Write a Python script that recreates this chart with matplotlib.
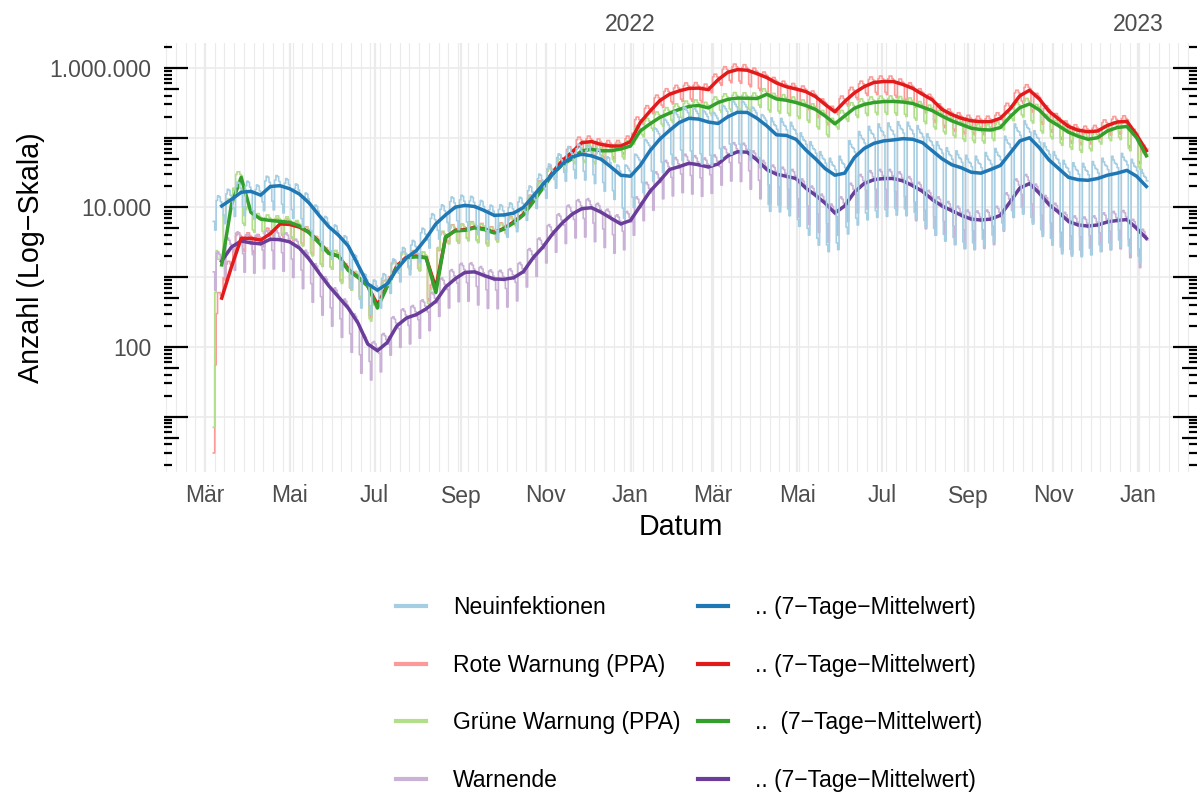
import numpy as np
import matplotlib
matplotlib.use("Agg")
import matplotlib.pyplot as plt
import matplotlib.dates as mdates
from matplotlib.ticker import FixedLocator, FuncFormatter, NullFormatter
from matplotlib.lines import Line2D

plt.rcParams['font.family'] = ['Liberation Sans', 'DejaVu Sans']

# ---------------- data (values in thousands, weekly 7-day means) -------------
START = np.datetime64('2021-03-07')   # first daily value (a Sunday)
N_WEEKS = 96

neu_7d = [10.5, 13.0, 16.5, 17.0, 15.0, 20.0, 20.5, 18.5, 15.5, 11.5,
          7.7, 5.3, 4.0, 2.8, 1.5, 0.8, 0.65, 0.8, 1.3, 1.9,
          2.4, 3.6, 5.8, 7.8, 10.1, 10.7, 10.3, 9.0, 7.7, 7.8,
          8.3, 10.0, 14.5, 21.5, 30, 42, 53, 58, 55, 49,
          38, 29, 28, 40, 65, 95, 127, 165, 190, 185,
          168, 160, 200, 232, 230, 190, 148, 110, 108, 95,
          67, 50, 36, 29, 31, 52, 70, 83, 90, 93,
          97, 95, 85, 65, 50, 41, 37, 32, 31, 35,
          40, 60, 90, 100, 72, 48, 36, 27, 25, 24.5,
          26, 29, 31, 34, 28, 20]

rot_7d = [0.5, 1.4, 3.6, 3.6, 3.4, 4.2, 5.8, 5.7, 5.2, 4.4,
          3.2, 2.2, 2.0, 1.3, 1.0, 0.75, 0.4, 0.75, 1.45, 1.95,
          2.0, 1.9, 0.7, 3.7, 4.7, 4.8, 5.2, 4.9, 4.4, 5.0,
          6.2, 8.0, 12.5, 20, 32, 47, 62, 85, 88, 80,
          76, 76, 88, 165, 240, 340, 420, 470, 510, 515,
          490, 680, 870, 950, 930, 830, 730, 610, 540, 500,
          460, 390, 300, 235, 330, 440, 540, 620, 640, 640,
          580, 510, 420, 350, 255, 215, 190, 175, 170, 170,
          190, 260, 400, 480, 360, 240, 185, 145, 128, 122,
          125, 150, 168, 172, 110, 65]

gruen_7d = [1.5, 11, 27, 8.5, 6.8, 6.5, 6.3, 6.1, 5.4, 4.3,
            3.1, 2.2, 2.0, 1.25, 1.0, 0.75, 0.36, 0.73, 1.4, 1.9,
            1.95, 1.9, 0.6, 3.8, 4.6, 4.7, 5.1, 4.8, 4.3, 4.9,
            6.0, 7.8, 12, 19, 30, 41, 50, 65, 68, 65,
            65, 69, 76, 125, 158, 195, 225, 255, 280, 290,
            268, 320, 355, 370, 368, 365, 420, 360, 345, 320,
            290, 255, 205, 158, 205, 265, 300, 320, 330, 332,
            325, 310, 275, 245, 205, 175, 155, 137, 131, 129,
            140, 200, 270, 305, 250, 180, 148, 120, 105, 95,
            100, 125, 140, 145, 100, 55]

warn_7d = [1.7, 2.7, 3.3, 3.1, 3.0, 3.5, 3.45, 3.2, 2.6, 1.8,
           1.15, 0.75, 0.52, 0.36, 0.22, 0.11, 0.088, 0.115, 0.2, 0.26,
           0.29, 0.35, 0.45, 0.72, 0.95, 1.17, 1.19, 1.05, 0.94, 0.93,
           0.98, 1.2, 1.9, 2.7, 4.2, 6.0, 8.0, 9.6, 9.9, 8.5,
           7.0, 5.8, 6.5, 10.5, 17, 24, 35, 38.5, 43, 41,
           38, 42, 55, 63, 62, 48, 35, 30, 28, 26,
           19, 15, 11.5, 8.3, 10.5, 16.5, 22, 25, 26, 26,
           24, 20.5, 17, 13, 10.5, 9.0, 7.7, 6.8, 6.6, 6.8,
           7.7, 12, 19, 22, 16, 11, 8.5, 6.3, 5.6, 5.4,
           5.6, 6.2, 6.5, 6.7, 5.0, 3.6]

# weekday profile of the daily values relative to the weekly mean (Sun..Sat)
NEU_FACT_2021 = [0.6, 0.45, 1.2, 1.4, 1.35, 1.15, 0.95]
NEU_FACT_EARLY22 = [0.35, 0.25, 1.45, 1.4, 1.3, 1.2, 1.0]
NEU_FACT_LATE22 = [0.1, 0.08, 1.75, 1.55, 1.4, 1.35, 1.2]
NEU_PATTERN_CHANGE = [42, 57]          # week index where the profile changes
PPA_FACT = [0.7, 0.65, 1.1, 1.2, 1.2, 1.1, 1.05]
WARN_FACT = [0.7, 0.38, 1.3, 1.35, 1.25, 1.1, 0.95]
ROT_RAMP = [3, 55, 300]                # first daily values (app ramp-up)
GRUEN_RAMP = [7, 600, 2400]

MONTHS_DE = ['Jan', 'Feb', 'Mär', 'Apr', 'Mai', 'Jun', 'Jul', 'Aug',
             'Sep', 'Okt', 'Nov', 'Dez']
YEAR_LABELS = ['2022', '2023']
LABELS_LEFT = ['Neuinfektionen', 'Rote Warnung (PPA)', 'Grüne Warnung (PPA)', 'Warnende']
LABELS_RIGHT = ['.. (7\u2212Tage\u2212Mittelwert)', '.. (7\u2212Tage\u2212Mittelwert)',
                '..  (7\u2212Tage\u2212Mittelwert)', '.. (7\u2212Tage\u2212Mittelwert)']

# ---------------- build series --------------------------------------------
def build_daily(weekly, fact_for_week, ramp=None):
    vals = []
    for w, v in enumerate(weekly):
        vals.extend([v * 1000.0 * f for f in fact_for_week(w)])
    vals = np.array(vals)
    if ramp is not None:
        vals[:len(ramp)] = ramp
    return vals

def neu_fact(w):
    if w < NEU_PATTERN_CHANGE[0]:
        return NEU_FACT_2021
    if w < NEU_PATTERN_CHANGE[1]:
        return NEU_FACT_EARLY22
    return NEU_FACT_LATE22

days = START + np.arange(7 * N_WEEKS + 1)
def steps(v):
    return np.append(v, v[-1])

neu_d = steps(build_daily(neu_7d, neu_fact))
rot_d = steps(build_daily(rot_7d, lambda w: PPA_FACT, ROT_RAMP))
gruen_d = steps(build_daily(gruen_7d, lambda w: PPA_FACT, GRUEN_RAMP))
warn_d = steps(build_daily(warn_7d, lambda w: WARN_FACT))

avg_dates = START + 6 + 7 * np.arange(N_WEEKS)
k = 1000.0

C = {'neu_l': '#A6CEE3', 'neu': '#1F78B4', 'rot_l': '#FB9A99', 'rot': '#E31A1C',
     'gr_l': '#B2DF8A', 'gr': '#33A02C', 'wa_l': '#CAB2D6', 'wa': '#6A3D9A'}

# ---------------- figure ---------------------------------------------------
fig = plt.figure(figsize=(12, 7.96), dpi=100)
ax = fig.add_axes([164 / 1200, 1 - 472 / 796, (1197 - 164) / 1200, (472 - 43) / 796])

thin = 1.2
thick = 2.5
ax.plot(days, rot_d, drawstyle='steps-post', color=C['rot_l'], lw=thin, zorder=2)
ax.plot(days, gruen_d, drawstyle='steps-post', color=C['gr_l'], lw=thin, zorder=2)
ax.plot(days, warn_d, drawstyle='steps-post', color=C['wa_l'], lw=thin, zorder=2)
ax.plot(avg_dates, np.array(warn_7d) * k, color=C['wa'], lw=thick, zorder=2.5)
ax.plot(avg_dates, np.array(rot_7d) * k, color=C['rot'], lw=thick, zorder=2.6)
ax.plot(avg_dates, np.array(gruen_7d) * k, color=C['gr'], lw=thick, zorder=2.7)
ax.plot(days, neu_d, drawstyle='steps-post', color=C['neu_l'], lw=thin, zorder=3)
ax.plot(avg_dates, np.array(neu_7d) * k, color=C['neu'], lw=thick, zorder=4)

ax.set_yscale('log')
ylo, yhi = 10 ** 0.204, 10 ** 6.359
ax.set_ylim(ylo, yhi)
ax.set_xlim(np.datetime64('2021-01-30T12'), np.datetime64('2023-02-12T10'))

# axes ticks / grid
ax.yaxis.set_major_locator(FixedLocator([1e2, 1e4, 1e6]))
ax.yaxis.set_minor_locator(FixedLocator([1e1, 1e3, 1e5]))
ax.yaxis.set_major_formatter(FuncFormatter(lambda v, p: f"{int(round(v)):,}".replace(',', '.')))
ax.yaxis.set_minor_formatter(NullFormatter())
ax.xaxis.set_major_locator(mdates.MonthLocator(bymonth=[1, 3, 5, 7, 9, 11]))
ax.xaxis.set_minor_locator(mdates.WeekdayLocator(byweekday=mdates.MO))
ax.xaxis.set_major_formatter(FuncFormatter(lambda v, p: MONTHS_DE[mdates.num2date(v).month - 1]))

grid_c = '#EBEBEB'
ax.grid(which='major', axis='x', color=grid_c, lw=1.6, zorder=0)
ax.grid(which='minor', axis='x', color=grid_c, lw=0.8, zorder=0)
ax.grid(which='both', axis='y', color=grid_c, lw=1.2, zorder=0)
ax.set_axisbelow(True)
ax.tick_params(which='both', length=0)
ax.tick_params(axis='x', labelsize=16.5, labelcolor='#4D4D4D', pad=9)
ax.tick_params(axis='y', labelsize=16.5, labelcolor='#4D4D4D', pad=9)
for s in ax.spines.values():
    s.set_visible(False)

# log ticks on left and right
W = (1197 - 164)
tick_len = {1: 24, 5: 15}
ytr = ax.get_yaxis_transform()
for e in range(0, 7):
    for m in range(1, 10):
        v = m * 10 ** e
        if v < ylo or v > yhi:
            continue
        L = tick_len.get(m, 8) / W
        ax.plot([0, L], [v, v], transform=ytr, color='black', lw=1.6,
                solid_capstyle='butt', zorder=5, clip_on=False)
        ax.plot([1 - L, 1], [v, v], transform=ytr, color='black', lw=1.6,
                solid_capstyle='butt', zorder=5, clip_on=False)

# top axis with years
sec = ax.secondary_xaxis('top')
sec.set_xticks([mdates.date2num(np.datetime64('2022-01-01')),
                mdates.date2num(np.datetime64('2023-01-01'))])
sec.set_xticklabels(YEAR_LABELS)
sec.tick_params(length=0, labelsize=16.5, labelcolor='#4D4D4D', pad=5)
for s in sec.spines.values():
    s.set_visible(False)

ax.set_xlabel('Datum', fontsize=20.6, labelpad=4)
ax.set_ylabel('Anzahl (Log\u2212Skala)', fontsize=20.6, labelpad=3)

# legend
handles = [Line2D([], [], color=C[c], lw=3.0) for c in ['neu_l', 'rot_l', 'gr_l', 'wa_l']] + \
          [Line2D([], [], color=C[c], lw=3.0) for c in ['neu', 'rot', 'gr', 'wa']]
fig.legend(handles, LABELS_LEFT + LABELS_RIGHT, ncol=2, loc='center',
           bbox_to_anchor=(689 / 1200, 1 - 694 / 796), frameon=False,
           fontsize=16.5, handlelength=1.3, handletextpad=1.2,
           columnspacing=0.75, labelspacing=1.52)

fig.savefig('out.png', dpi=100)
